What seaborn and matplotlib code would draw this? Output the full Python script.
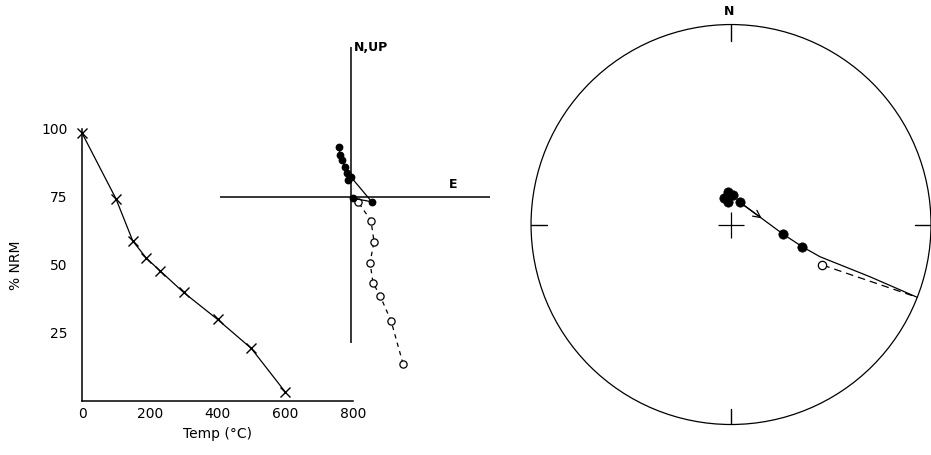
import numpy as np
import pandas as pd
import matplotlib
matplotlib.use("Agg")
import matplotlib.pyplot as plt
from matplotlib.patches import Circle
import seaborn as sns

# thermal demagnetisation: remaining intensity
temp_steps = [0, 100, 150, 190, 230, 300, 400, 500, 600]
nrm_pct = [98.5, 74.4, 58.8, 52.5, 47.9, 39.9, 30.0, 19.3, 3.3]

# orthogonal (Zijderveld) projection, arbitrary intensity units
horiz_east = [-1.2, -1.1, -0.93, -0.6, -0.43, -0.27, -0.03, 2.07, 0.23]
horiz_north = [5.0, 4.17, 3.67, 3.0, 2.34, 1.67, 2.0, -0.5, -0.17]
vert_east = [5.2, 4.0, 2.9, 2.2, 1.9, 2.3, 2.0, 0.73]
vert_up = [-16.7, -12.4, -9.9, -8.6, -6.6, -4.5, -2.4, -0.56]

# equal-area stereonet (declination, inclination in degrees)
lower_dec = [345.0, 355.3, 4.5, 353.2, 22.1, 100.6, 107.3]
lower_inc = [79.0, 76.6, 78.0, 80.7, 80.3, 68.3, 59.4]
upper_dec = [113.9]
upper_inc = [-48.6]
trace_dec = [22.1, 100.6, 107.3, 109.9, 110.6, 111.35]
trace_inc = [80.3, 68.3, 59.4, 50.9, 26.7, 0.0]
dash_dec = [113.9, 111.35]
dash_inc = [-48.6, 0.0]


def project(dec, inc):
    d = np.radians(np.asarray(dec))
    theta = np.radians(90 - np.abs(np.asarray(inc)))
    r = np.sqrt(2) * np.sin(theta / 2)
    return r * np.sin(d), r * np.cos(d)


sns.set_style("white")
plt.rcParams["font.family"] = ["DejaVu Sans"]
plt.rcParams["font.size"] = 10
for key in ["text.color", "axes.labelcolor", "xtick.color", "ytick.color"]:
    plt.rcParams[key] = "black"

fig = plt.figure(figsize=(9.31, 4.55), dpi=100)

# ---- intensity decay ----
ax1 = fig.add_axes([0.0881, 0.1187, 0.2911, 0.5978])
ax1.patch.set_alpha(0)
df = pd.DataFrame({"temp": temp_steps, "nrm": nrm_pct})
sns.lineplot(data=df, x="temp", y="nrm", color="black", lw=0.9,
             marker="x", markersize=7, markeredgewidth=1.0,
             markeredgecolor="black", ax=ax1, clip_on=False)
ax1.set_xlim(0, 800)
ax1.set_ylim(0, 100)
ax1.set_xticks([0, 200, 400, 600, 800])
ax1.set_yticks([25, 50, 75, 100])
ax1.tick_params(axis="x", direction="in", length=5, width=1.1, pad=4.5,
                labelsize=10)
ax1.tick_params(axis="y", direction="out", length=4.5, width=1.1, pad=6,
                labelsize=10)
for s in ["top", "right"]:
    ax1.spines[s].set_visible(False)
for s in ["left", "bottom"]:
    ax1.spines[s].set_linewidth(1.1)
    ax1.spines[s].set_color("black")
ax1.set_xlabel("Temp (°C)", fontsize=10, labelpad=4)
ax1.set_ylabel("% NRM", fontsize=10)
ax1.yaxis.set_label_coords(-0.218, 0.5)

# ---- orthogonal projection ----
ax2 = fig.add_axes([0.2256, 0.1648, 0.3222, 0.7582])
ax2.patch.set_alpha(0)
ax2.set_xlim(-14.1, 15.9)
ax2.set_ylim(-18.33, 16.17)
ax2.axis("off")
ax2.hlines(0, -13.1, 13.9, color="black", lw=1.1)
ax2.vlines(0, -14.63, 14.97, color="black", lw=1.1)
sns.lineplot(x=vert_east, y=vert_up, sort=False, estimator=None,
             color="black", lw=0.9, dashes=False, linestyle=(0, (3.5, 3.5)),
             ax=ax2)
ax2.plot(vert_east, vert_up, ls="none", marker="o", ms=5.2, mfc="white",
         mec="black", mew=0.9, clip_on=False)
sns.lineplot(x=horiz_east, y=horiz_north, sort=False, estimator=None,
             color="black", lw=0.9, ax=ax2)
ax2.plot(horiz_east, horiz_north, ls="none", marker="o", ms=4.6, mfc="black",
         mec="black", clip_on=False)
ax2.text(0.25, 14.9, "N,UP", ha="left", va="center", fontsize=9,
         fontweight="bold")
ax2.text(10.2, 1.27, "E", ha="center", va="center", fontsize=9,
         fontweight="bold")

# ---- stereonet ----
ax3 = fig.add_axes([0.5704, 0.067, 0.4296, 0.8791])
ax3.patch.set_alpha(0)
ax3.set_xlim(-1, 1)
ax3.set_ylim(-1, 1)
ax3.set_aspect("equal")
ax3.axis("off")
ax3.add_patch(Circle((0, 0), 1, fill=False, lw=0.9, color="black",
                     clip_on=False))
for az in np.radians([0, 90, 180, 270]):
    ax3.plot([np.sin(az), 0.92 * np.sin(az)], [np.cos(az), 0.92 * np.cos(az)],
             color="black", lw=1.0, clip_on=False)
ax3.plot(0, 0, marker="+", ms=19, mew=0.9, color="black")
ax3.text(-0.01, 1.064, "N", ha="center", va="center", fontsize=9,
         fontweight="bold")

tx, ty = project(trace_dec, trace_inc)
sns.lineplot(x=tx, y=ty, sort=False, estimator=None, color="black", lw=0.9,
             ax=ax3)
dx, dy = project(dash_dec, dash_inc)
ax3.plot(dx, dy, color="black", lw=0.9, ls=(0, (6, 4)))
ax3.annotate("", xy=((tx[0] + tx[1]) / 2, (ty[0] + ty[1]) / 2),
             xytext=(tx[0], ty[0]),
             arrowprops=dict(arrowstyle="->", color="black", lw=0.9,
                             mutation_scale=13, shrinkA=0, shrinkB=0))
lx, ly = project(lower_dec, lower_inc)
sns.scatterplot(x=lx, y=ly, s=45, color="black", edgecolor="black",
                linewidth=0.5, ax=ax3, zorder=5)
ux, uy = project(upper_dec, upper_inc)
sns.scatterplot(x=ux, y=uy, s=36, color="white", edgecolor="black",
                linewidth=0.9, ax=ax3, zorder=5)

fig.savefig("out.png", dpi=100)
